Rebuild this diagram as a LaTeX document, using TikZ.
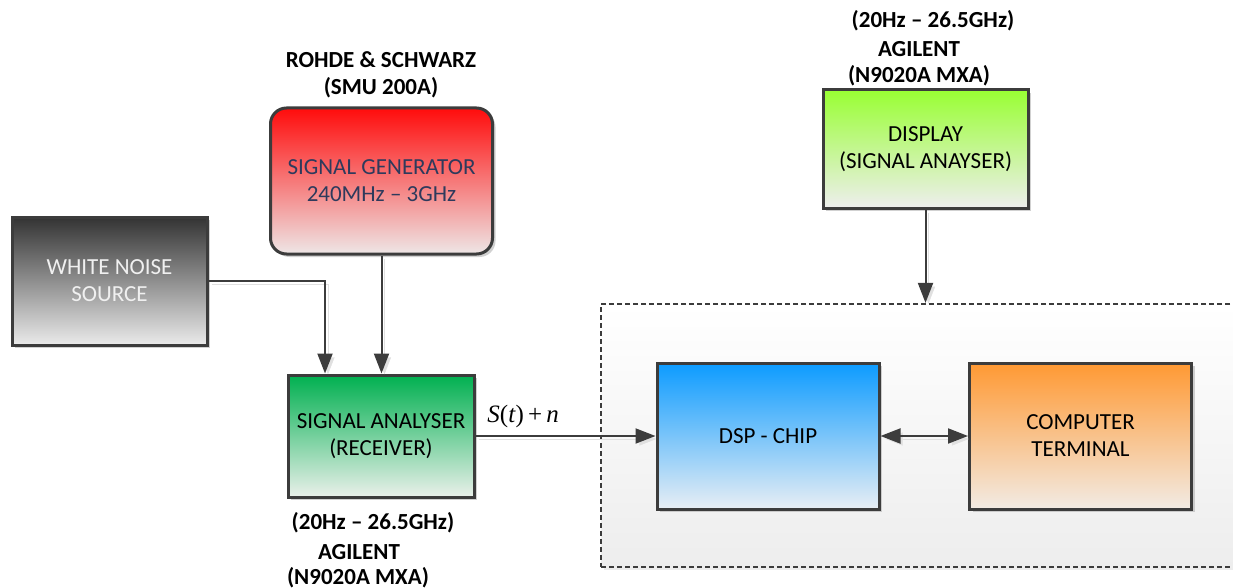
\documentclass[tikz,border=0pt]{standalone}
\usepackage{fontspec}
\setmainfont{Carlito}
\newfontfamily\tnr{Liberation Serif}
\usetikzlibrary{arrows.meta,shadows,calc}
\definecolor{bord}{HTML}{3C3C3C}
\definecolor{navytxt}{HTML}{2E3A5C}
\begin{document}
\begin{tikzpicture}[x=1pt,y=-1pt,
  box/.style={draw=bord, line width=3pt, shading=axis, align=center,
    font=\fontsize{23}{27}\selectfont, inner sep=0pt,
    drop shadow={shadow xshift=3pt, shadow yshift=-3pt, fill=black!30, opacity=0.6}},
  tip/.style={Triangle[length=20pt,width=15pt]},
  conn/.style={draw=bord, line width=2pt, -{Triangle[length=20pt,width=15pt]},
    preaction={draw=black!12, transform canvas={xshift=3pt,yshift=-3pt}}},
  lbl/.style={font=\fontsize{23}{27}\selectfont\bfseries, inner sep=0pt}]
\useasboundingbox (0,0) rectangle (1233,588);
\clip (0,0) rectangle (1233,588);
% container
\node[draw=bord, line width=2.2pt, dash pattern=on 5pt off 3pt, shading=axis,
  top color=white, bottom color=black!7, minimum width=639pt, minimum height=263pt,
  inner sep=0pt,
  drop shadow={shadow xshift=3pt, shadow yshift=-3pt, fill=black!15, opacity=0.5}]
  (cont) at (920.5,435.5) {};
% boxes
\node[box, top color={rgb,255:red,51;green,51;blue,51}, bottom color=black!8,
  minimum width=195pt, minimum height=128pt, text=white!94!black]
  (wn) at (109.5,281) {WHITE NOISE\\SOURCE};
\node[box, rounded corners=16pt, top color={rgb,255:red,255;green,12;blue,12}, bottom color={rgb,255:red,238;green,230;blue,230},
  minimum width=222pt, minimum height=146pt, text=navytxt]
  (sg) at (381.5,181) {SIGNAL GENERATOR\\240MHz -- 3GHz};
\node[box, top color={rgb,255:red,0;green,176;blue,80}, bottom color={rgb,255:red,234;green,240;blue,234},
  minimum width=186pt, minimum height=122pt]
  (sa) at (381,436) {SIGNAL ANALYSER\\(RECEIVER)};
\node[box, top color={rgb,255:red,153;green,255;blue,51}, bottom color={rgb,255:red,238;green,238;blue,238},
  minimum width=205pt, minimum height=118pt]
  (disp) at (925.5,149) {DISPLAY\\(SIGNAL ANAYSER)};
\node[box, top color={rgb,255:red,12;green,155;blue,255}, bottom color={rgb,255:red,232;green,238;blue,244},
  minimum width=222pt, minimum height=146pt]
  (dsp) at (768,436) {DSP - CHIP};
\node[box, top color={rgb,255:red,255;green,153;blue,51}, bottom color={rgb,255:red,242;green,235;blue,228},
  minimum width=222pt, minimum height=146pt]
  (ct) at (1080.5,436) {COMPUTER\\TERMINAL};
% labels
\node[lbl] (sgl1) at (381,60) {ROHDE \& SCHWARZ};
\node[lbl] (sgl2) at (381,88) {(SMU 200A)};
\node[lbl] (sal1) at (373,523) {(20Hz -- 26.5GHz)};
\node[lbl] (sal2) at (359,552) {AGILENT};
\node[lbl] (sal3) at (358,578) {(N9020A MXA)};
\node[lbl] (dl1) at (933,21) {(20Hz -- 26.5GHz)};
\node[lbl] (dl2) at (919,49) {AGILENT};
\node[lbl] (dl3) at (919,76) {(N9020A MXA)};
% connectors
\draw[conn] (wn.east) -| ([xshift=-56pt]sa.north);
\draw[conn] (sg.south) -- (sg.south |- sa.north);
\draw[conn] (sa.east) -- node[pos=0.265, anchor=south, yshift=7pt, inner sep=0pt,
  font=\fontsize{25}{28}\selectfont\tnr] (sn) {\textit{S}(\textit{t})\,+\,\textit{n}} (dsp.west);
\draw[conn, {Triangle[length=20pt,width=15pt]}-{Triangle[length=20pt,width=15pt]}] (dsp.east) -- (ct.west);
\draw[conn] (disp.south) -- (disp.south |- cont.north);
\end{tikzpicture}
\end{document}
